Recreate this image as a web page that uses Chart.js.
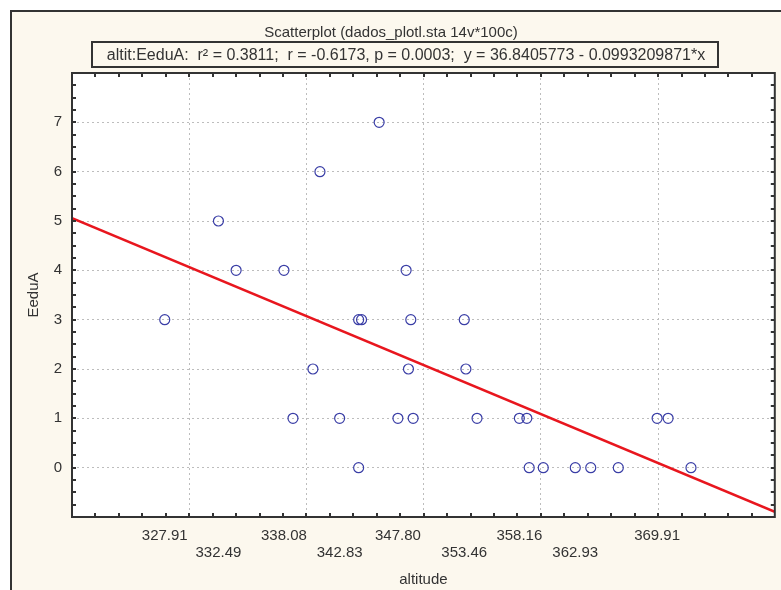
<!DOCTYPE html>
<html>
<head>
<meta charset="utf-8">
<script src="https://cdn.jsdelivr.net/npm/chart.js@4.4.1/dist/chart.umd.min.js"></script>
<style>
html, body { margin: 0; padding: 0; background: #fff; }
</style>
</head>
<body>
<canvas id="scatterChart" width="781" height="590"></canvas>
<script>
var altitude = [327.91, 332.49, 334.0, 338.08, 338.85, 340.55, 341.15, 342.83, 344.45, 344.7,
                344.45, 346.2, 347.80, 348.5, 348.7, 348.9, 349.1, 353.46, 353.6, 354.55,
                358.16, 358.8, 359.0, 360.2, 362.93, 364.25, 366.6, 369.91, 370.85, 372.8];
var eduA = [3, 5, 4, 4, 1, 2, 6, 1, 3, 3,
            0, 7, 1, 4, 2, 3, 1, 3, 2, 1,
            1, 1, 0, 0, 0, 0, 0, 1, 1, 0];
var xTickLabels = [327.91, 332.49, 338.08, 342.83, 347.80, 353.46, 358.16, 362.93, 369.91];
var xGridValues = [330, 340, 350, 360, 370];
var yTickLabels = [0, 1, 2, 3, 4, 5, 6, 7];

// fit from the header line
var intercept = 36.8405773;
var slope = -0.0993209871;

var xMin = 320.0, xMax = 379.95, yMin = -1, yMax = 8;
var xMinorStep = 2, yMinorStep = 0.25;

var titleText = 'Scatterplot (dados_plotl.sta 14v*100c)';
var statText = 'altit:EeduA:  r\u00b2 = 0.3811;  r = -0.6173, p = 0.0003;  y = 36.8405773 - 0.0993209871*x';

var cream = '#fcf8ee';
var dark = '#333333';
var gridColor = '#bdbdbd';
var fontFamily = '"Liberation Sans", Arial, sans-serif';

var points = altitude.map(function (x, i) { return { x: x, y: eduA[i] }; });
var fitLine = [xMin, xMax].map(function (x) { return { x: x, y: intercept + slope * x }; });

var framePlugin = {
    id: 'frame',
    beforeDraw: function (chart) {
        var ctx = chart.ctx, a = chart.chartArea;
        ctx.save();
        ctx.fillStyle = '#fff';
        ctx.fillRect(0, 0, chart.width, chart.height);
        ctx.fillStyle = cream;
        ctx.fillRect(11, 11, chart.width - 11, chart.height - 11);
        ctx.strokeStyle = dark;
        ctx.lineWidth = 2;
        ctx.beginPath();
        ctx.moveTo(chart.width, 11);
        ctx.lineTo(11, 11);
        ctx.lineTo(11, chart.height);
        ctx.stroke();
        ctx.fillStyle = '#fff';
        ctx.fillRect(a.left, a.top, a.right - a.left, a.bottom - a.top);

        // title and stats box
        ctx.fillStyle = dark;
        ctx.textAlign = 'center';
        ctx.textBaseline = 'middle';
        ctx.font = '15px ' + fontFamily;
        ctx.fillText(titleText, 391, 33);
        ctx.strokeRect(92, 42, 626, 25);
        ctx.font = '16px ' + fontFamily;
        ctx.fillText(statText, 406, 56, 612);
        ctx.restore();
    },
    afterDraw: function (chart) {
        var ctx = chart.ctx, a = chart.chartArea;
        var xs = chart.scales.x, ys = chart.scales.y;
        ctx.save();
        ctx.strokeStyle = dark;
        ctx.lineWidth = 2;
        ctx.beginPath();
        var v, p;
        for (v = Math.ceil((xMin + 0.01) / xMinorStep) * xMinorStep; v < xMax; v += xMinorStep) {
            p = Math.round(xs.getPixelForValue(v));
            ctx.moveTo(p, a.bottom); ctx.lineTo(p, a.bottom - 4);
            ctx.moveTo(p, a.top); ctx.lineTo(p, a.top + 4);
        }
        for (v = yMin + yMinorStep; v < yMax; v += yMinorStep) {
            p = Math.round(ys.getPixelForValue(v));
            ctx.moveTo(a.left, p); ctx.lineTo(a.left + 4, p);
            ctx.moveTo(a.right, p); ctx.lineTo(a.right - 4, p);
        }
        ctx.stroke();
        ctx.strokeRect(a.left, a.top, a.right - a.left, a.bottom - a.top);
        ctx.restore();
    }
};

function noSidePadding(scale) {
    scale.paddingLeft = 0;
    scale.paddingRight = 0;
}

var scatterCanvas = document.getElementById('scatterChart').getContext('2d');

var myChart = new Chart(scatterCanvas, {
    type: 'scatter',
    data: {
        datasets: [
            {
                label: 'EeduA',
                data: points,
                pointRadius: 5,
                pointBorderWidth: 1.2,
                pointBorderColor: '#3a3ea6',
                pointBackgroundColor: 'transparent'
            },
            {
                type: 'line',
                label: 'fit',
                data: fitLine,
                borderColor: '#e8161e',
                borderWidth: 2.6,
                pointRadius: 0,
                fill: false
            }
        ]
    },
    options: {
        responsive: false,
        animation: false,
        devicePixelRatio: 1,
        layout: { padding: { top: 73, left: 0, right: 4, bottom: 0 } },
        plugins: {
            legend: { display: false },
            tooltip: { enabled: false }
        },
        scales: {
            x: {
                type: 'linear',
                position: 'bottom',
                min: xMin,
                max: xMax,
                afterBuildTicks: function (scale) {
                    scale.ticks = xTickLabels.map(function (v) { return { value: v }; });
                },
                afterFit: function (scale) { scale.height = 73; noSidePadding(scale); },
                ticks: {
                    autoSkip: false,
                    maxRotation: 0,
                    padding: 11,
                    color: dark,
                    font: { family: fontFamily, size: 15, lineHeight: 1.1 },
                    callback: function (value, index) {
                        var s = Number(value).toFixed(2);
                        return index % 2 === 0 ? s : ['', s];
                    }
                },
                grid: { display: false, drawTicks: false },
                border: { display: false },
                title: {
                    display: true,
                    text: 'altitude',
                    color: dark,
                    font: { family: fontFamily, size: 15 },
                    padding: { top: 0, bottom: 1 }
                }
            },
            xg: {
                type: 'linear',
                position: 'top',
                min: xMin,
                max: xMax,
                afterBuildTicks: function (scale) {
                    scale.ticks = xGridValues.map(function (v) { return { value: v }; });
                },
                afterFit: function (scale) { scale.height = 0; noSidePadding(scale); },
                ticks: { display: false },
                grid: { color: gridColor, drawTicks: false, lineWidth: 1 },
                border: { display: false, dash: [2, 3] }
            },
            y: {
                type: 'linear',
                min: yMin,
                max: yMax,
                afterBuildTicks: function (scale) {
                    scale.ticks = yTickLabels.map(function (v) { return { value: v }; });
                },
                afterFit: function (scale) { scale.width = 72; },
                ticks: {
                    padding: 10,
                    color: dark,
                    font: { family: fontFamily, size: 15 }
                },
                grid: { color: gridColor, drawTicks: false, lineWidth: 1 },
                border: { display: false, dash: [2, 3] },
                title: {
                    display: true,
                    text: 'EeduA',
                    color: dark,
                    font: { family: fontFamily, size: 15 },
                    padding: { top: 25, bottom: 0 }
                }
            }
        }
    },
    plugins: [framePlugin]
});
</script>
</body>
</html>
